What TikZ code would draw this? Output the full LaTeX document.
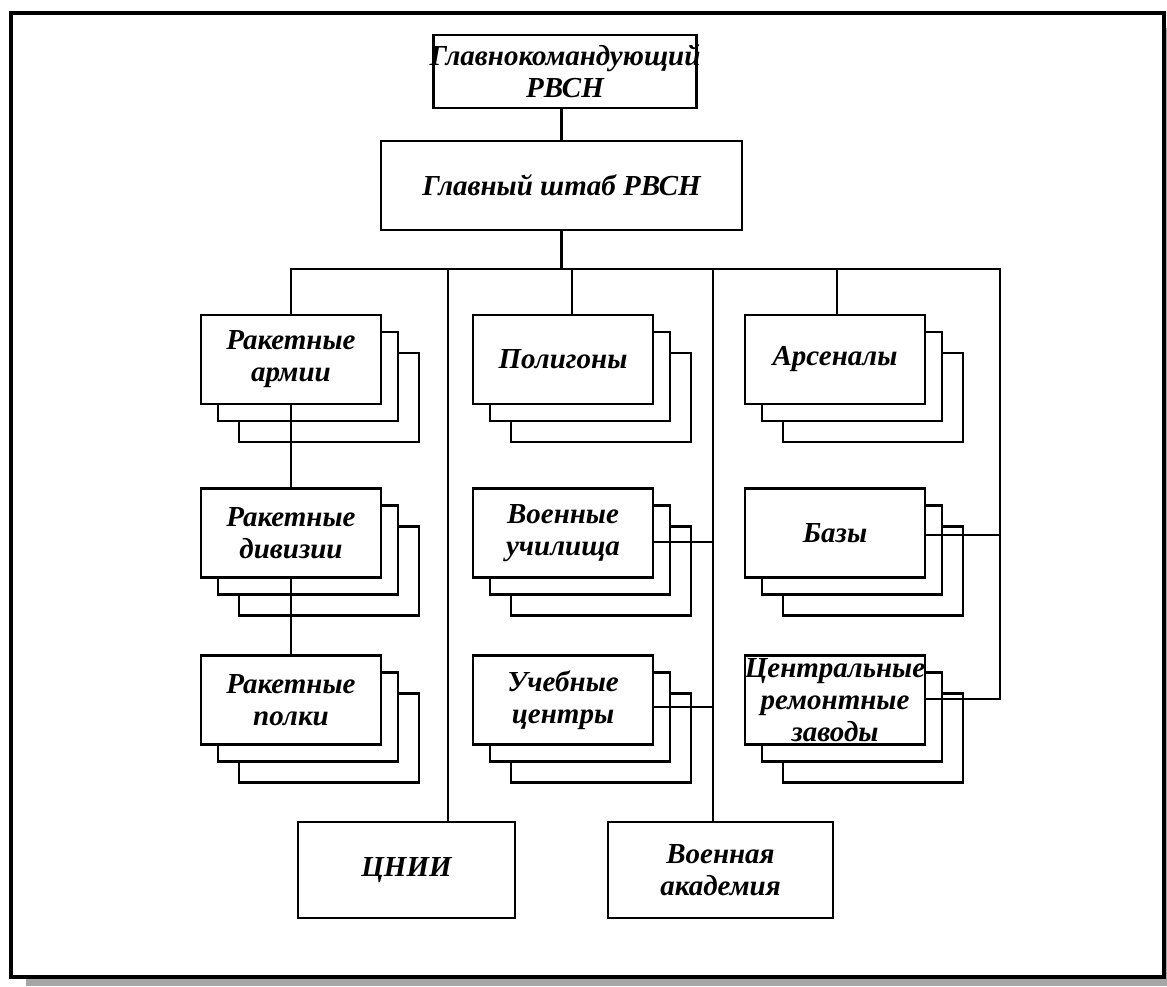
\documentclass[tikz,border=0pt]{standalone}
\usepackage{fontspec}
\setmainfont{Liberation Serif}
\usepackage{xcolor}
\definecolor{shadowgray}{RGB}{166,166,166}
\usetikzlibrary{positioning}

% stack of three cards: name, centre, label
\newcommand{\cardstack}[3]{%
    \node[card, xshift=38pt, yshift=-38pt] at (#2) {};
    \node[card, xshift=17pt, yshift=-17pt] at (#2) {};
    \node[card] (#1) at (#2) {#3};
}

\begin{document}
\begin{tikzpicture}[x=1pt, y=-1pt,
    unit/.style={draw, line width=2.6pt, fill=white, inner sep=0pt, align=center,
        font=\bfseries\itshape\fontsize{29}{32}\selectfont},
    card/.style={unit, minimum width=180pt, minimum height=89pt},
    link/.style={line width=2.2pt}]
    \useasboundingbox (0,0) rectangle (1167,986);

    % Frame with shadow
    \fill[shadowgray] (26,28) rectangle (1167,986);
    \draw[line width=3.4pt, fill=white] (11,13) rectangle (1164,977);

    % Command
    \node[unit, minimum width=263pt, minimum height=73pt] (glavkom) at (565,71.5)
        {\makebox[0pt]{Главнокомандующий}\\РВСН};
    \node[unit, minimum width=361pt, minimum height=89pt] (shtab) at (561.5,185.5)
        {Главный штаб РВСН};

    % Left column
    \cardstack{armii}{291,359.5}{Ракетные\\армии}
    \cardstack{divizii}{291,533}{Ракетные\\дивизии}
    \cardstack{polki}{291,700}{Ракетные\\полки}

    % Middle column
    \cardstack{poligony}{563,359.5}{Полигоны}
    \cardstack{uchilischa}{563,533}{Военные\\училища}
    \cardstack{centry}{563,700}{Учебные\\центры}

    % Right column
    \cardstack{arsenaly}{835,359.5}{Арсеналы}
    \cardstack{bazy}{835,533}{Базы}
    \cardstack{zavody}{835,700}{\makebox[0pt]{Центральные}\\ремонтные\\заводы};

    % Bottom row
    \node[unit, minimum width=217pt, minimum height=96pt] (cnii) at (406.5,870) {ЦНИИ};
    \node[unit, minimum width=225pt, minimum height=96pt] (akad) at (720.5,870)
        {Военная\\академия};

    % Bus lines
    \coordinate (busR) at (1000,269);
    \coordinate (cnline) at (448,269);
    \coordinate (polline) at (572,269);
    \coordinate (akline) at (713,269);
    \coordinate (arsline) at (837,269);
    \draw[link] (glavkom.south -| shtab.north) -- (shtab.north);
    \draw[link] (shtab.south) -- (shtab.south |- busR);
    \draw[link] (armii.north) |- (busR) |- ([yshift=1pt]zavody.east);
    \draw[link] (cnline) -- (cnline |- cnii.north);
    \draw[link] (polline) -- (polline |- poligony.north);
    \draw[link] (akline) -- (akline |- akad.north);
    \draw[link] (arsline) -- (arsline |- arsenaly.north);

    % Branches
    \draw[link] (armii.south) -- (divizii.north);
    \draw[link] (divizii.south) -- (polki.north);
    \draw[link] ([yshift=-9pt]uchilischa.east) -- ([yshift=-9pt]uchilischa.east -| akline);
    \draw[link] ([yshift=-7pt]centry.east) -- ([yshift=-7pt]centry.east -| akline);
    \draw[link] ([yshift=-2pt]bazy.east) -- ([yshift=-2pt]bazy.east -| busR);
\end{tikzpicture}
\end{document}
